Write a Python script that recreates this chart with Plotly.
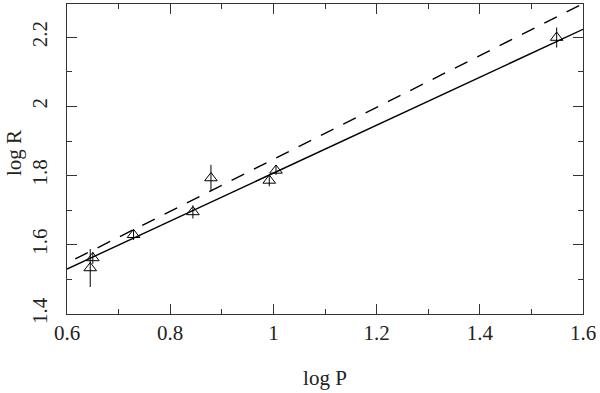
import plotly.graph_objects as go

# observed points (log P, log R) with symmetric errors in log R
log_p = [0.645, 0.650, 0.729, 0.844, 0.879, 0.992, 1.005, 1.549]
log_r = [1.533, 1.562, 1.629, 1.695, 1.793, 1.786, 1.815, 2.199]
log_r_err = [0.055, 0.017, 0.015, 0.019, 0.038, 0.017, 0.013, 0.029]

# fitted relations
fit_x = [0.6, 1.6]
fit_y = [1.530, 2.223]
dash_x = [0.616, 1.6]
dash_y = [1.559, 2.297]

FONT = "Liberation Serif, DejaVu Serif, serif"

fig = go.Figure()

fig.add_trace(go.Scatter(
    x=fit_x, y=fit_y, mode="lines",
    line=dict(color="black", width=1.4),
    showlegend=False,
))
fig.add_trace(go.Scatter(
    x=dash_x, y=dash_y, mode="lines",
    line=dict(color="black", width=1.4, dash="14px,11px"),
    showlegend=False,
))
fig.add_trace(go.Scatter(
    x=log_p, y=log_r, mode="markers",
    marker=dict(symbol="triangle-up-open", size=11, color="black",
                line=dict(color="black", width=1)),
    error_y=dict(type="data", array=log_r_err, visible=True,
                 width=0, thickness=1, color="black"),
    showlegend=False,
))

axis_common = dict(
    showgrid=False, zeroline=False, automargin=False,
    showline=True, linecolor="#333", linewidth=1, mirror="ticks",
    ticks="inside", ticklen=10, tickwidth=1, tickcolor="#333",
    tickfont=dict(family=FONT, size=21, color="#222"),
    minor=dict(ticks="inside", ticklen=5, tickwidth=1, tickcolor="#333", showgrid=False),
)

fig.update_xaxes(
    range=[0.6, 1.6], tick0=0.6, dtick=0.2, ticklabelstandoff=0,
    title=dict(text="log P", font=dict(family=FONT, size=21, color="#222"), standoff=26),
    **axis_common,
)
fig.update_xaxes(minor_dtick=0.1, minor_tick0=0.6)
fig.update_yaxes(
    range=[1.4, 2.296], tick0=1.4, dtick=0.2, tickangle=-90, ticklabelstandoff=11,
    **axis_common,
)
fig.update_yaxes(minor_dtick=0.1, minor_tick0=1.4)

# y title as an annotation so it can sit further out than the tick labels allow
fig.add_annotation(
    text="log R", textangle=-90,
    xref="paper", yref="paper", x=0, y=0.5, xanchor="center", yanchor="middle",
    xshift=-53, yshift=6, showarrow=False,
    font=dict(family=FONT, size=21, color="#222"),
)

fig.update_layout(
    width=600, height=393,
    margin=dict(l=67, r=17, t=4, b=79),
    plot_bgcolor="white", paper_bgcolor="white",
    font=dict(family=FONT),
)

# drop the page's default body margin so the figure sits at the window's corner
fig.write_html("out.html", config={"displayModeBar": False},
               post_script="document.body.style.margin='0';")
